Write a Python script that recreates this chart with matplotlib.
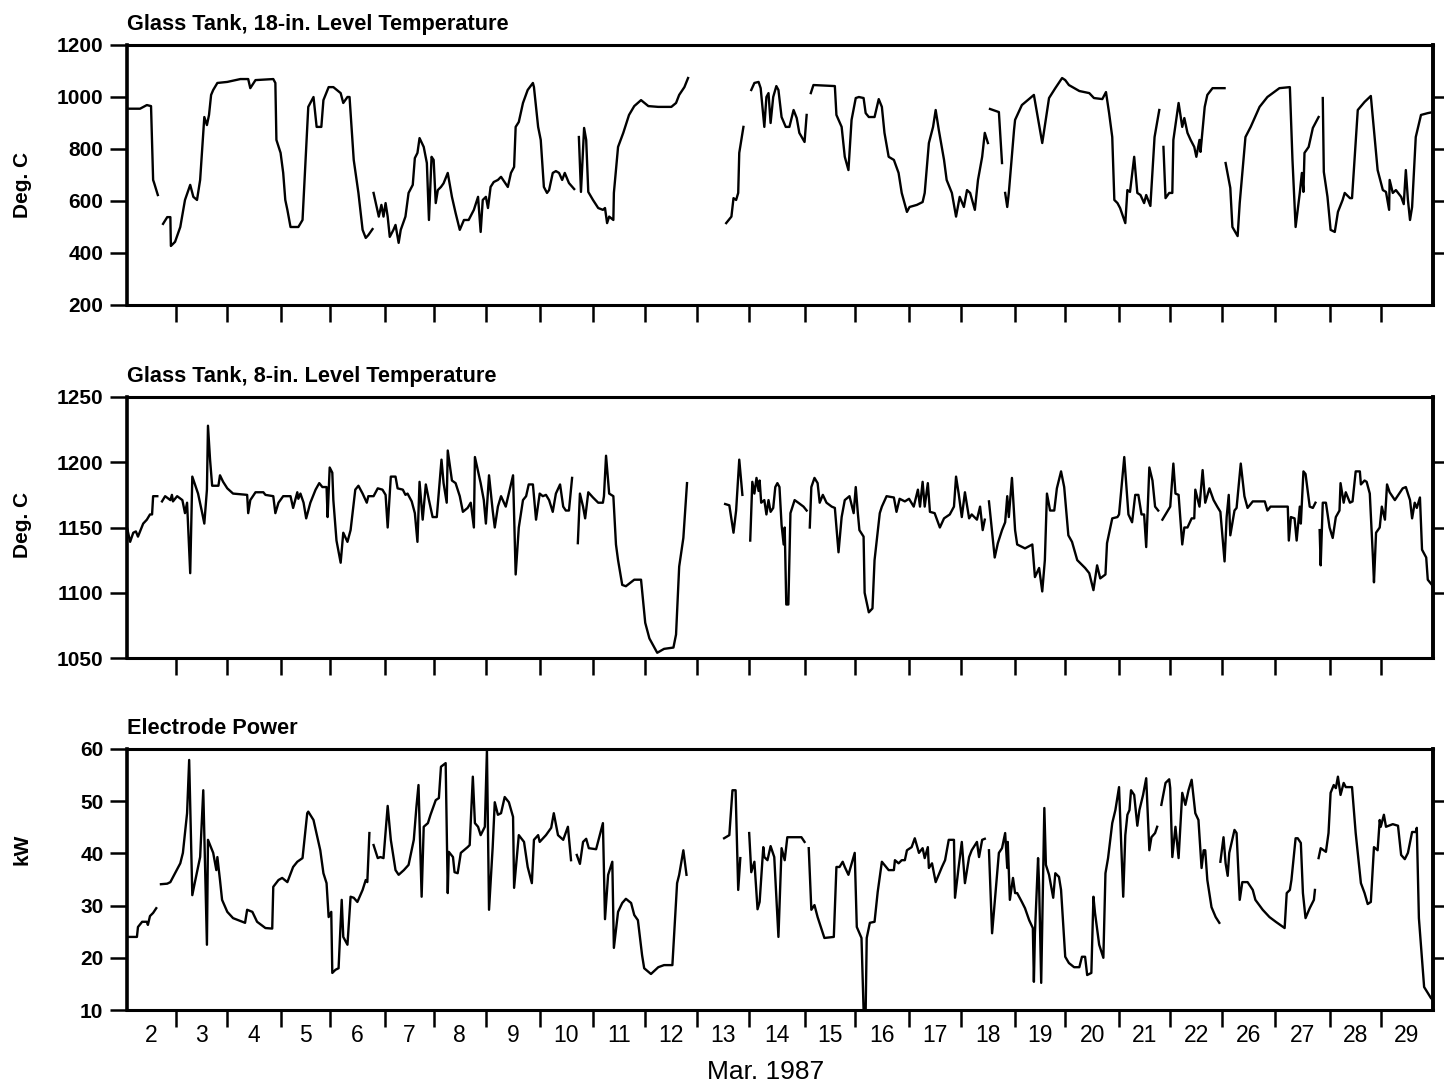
import matplotlib
matplotlib.use("Agg")
import matplotlib.pyplot as plt
import numpy as np

plt.rcParams['font.family'] = ['Liberation Sans', 'DejaVu Sans']

# x is elapsed record time in days from the start of Mar. 2 (days 23-25 not logged)
day_labels = ['2', '3', '4', '5', '6', '7', '8', '9', '10', '11', '12', '13', '14',
              '15', '16', '17', '18', '19', '20', '21', '22', '26', '27', '28', '29']
# midnight marks between logged days
day_bounds = [0.94, 1.92, 2.94, 3.89, 4.93, 5.87, 6.87, 7.90, 8.92, 9.92, 10.92, 11.91,
              12.97, 13.93, 14.97, 15.96, 17.00, 17.96, 18.99, 19.97, 20.97, 21.97, 23.02, 24.00]

# glass tank, 18-in. level temperature (deg C), one list per logged stretch
t18_days = [
    [0.00, 0.25, 0.38, 0.46, 0.50, 0.52, 0.59],
    [0.69, 0.77, 0.83, 0.84, 0.92, 1.02, 1.11, 1.21, 1.27, 1.34, 1.40, 1.48, 1.53, 1.57, 1.61, 1.65, 1.73,
     1.92, 2.17, 2.32, 2.36, 2.46, 2.80, 2.84, 2.86, 2.94, 2.99, 3.03, 3.07, 3.13, 3.28, 3.36, 3.47, 3.57,
     3.63, 3.72, 3.76, 3.86, 3.95, 4.09, 4.14, 4.22, 4.26, 4.34, 4.43, 4.51, 4.57, 4.62, 4.70],
    [4.72, 4.82, 4.87, 4.91, 4.95, 4.99, 5.03, 5.10, 5.14, 5.20, 5.24, 5.33, 5.39, 5.47, 5.51, 5.56, 5.60,
     5.68, 5.74, 5.78, 5.83, 5.87, 5.91, 5.95, 6.01, 6.06, 6.14, 6.22, 6.29, 6.37, 6.45, 6.54, 6.64, 6.72,
     6.77, 6.81, 6.87, 6.91, 6.96, 7.02, 7.10, 7.16, 7.29, 7.35, 7.41, 7.44, 7.50, 7.58, 7.67, 7.77, 7.79,
     7.87, 7.92, 7.98, 8.04, 8.08, 8.15, 8.21, 8.27, 8.33, 8.38, 8.46, 8.56],
    [8.65, 8.69, 8.75, 8.79, 8.83, 8.92, 9.02, 9.11, 9.15, 9.19, 9.23, 9.31, 9.32, 9.40, 9.50, 9.61, 9.71,
     9.84, 9.98, 10.17, 10.42, 10.51, 10.57, 10.67, 10.74],
    [11.47, 11.57, 11.61, 11.66, 11.70, 11.72, 11.80],
    [11.95, 12.01, 12.09, 12.13, 12.20, 12.24, 12.28, 12.32, 12.37, 12.43, 12.47, 12.53, 12.61, 12.68,
     12.76, 12.82, 12.87, 12.97, 13.01],
    [13.09, 13.14, 13.55, 13.58, 13.68, 13.74, 13.81, 13.87, 13.95, 14.01, 14.10, 14.14, 14.20, 14.31,
     14.39, 14.45, 14.50, 14.58, 14.68, 14.77, 14.83, 14.93, 14.98, 15.12, 15.23, 15.27, 15.35, 15.43,
     15.48, 15.54, 15.64, 15.69, 15.79, 15.87, 15.94, 16.02, 16.08, 16.14, 16.23, 16.29, 16.37, 16.42, 16.48],
    [16.52, 16.69, 16.75],
    [16.81, 16.85, 16.88, 16.98, 17.00, 17.13, 17.36, 17.52, 17.65, 17.77, 17.90, 17.96, 18.03, 18.23,
     18.42, 18.51, 18.67, 18.74, 18.80, 18.86, 18.90, 18.96, 19.01, 19.11, 19.15, 19.20, 19.28, 19.34,
     19.40, 19.47, 19.51, 19.59, 19.67, 19.76],
    [19.84, 19.88, 19.95, 20.01, 20.03, 20.13, 20.20, 20.24, 20.30, 20.36, 20.43, 20.47, 20.53, 20.55,
     20.63, 20.68, 20.78, 21.01],
    [21.03, 21.12, 21.16, 21.26, 21.30, 21.41, 21.51, 21.68, 21.83, 22.06, 22.26, 22.31, 22.37, 22.45,
     22.49, 22.52, 22.54, 22.62, 22.70, 22.81],
    [22.89, 22.91, 22.98, 23.04, 23.12, 23.18, 23.27, 23.31, 23.41, 23.45, 23.56, 23.69, 23.81, 23.94,
     24.04, 24.10, 24.16, 24.17, 24.23, 24.29, 24.39, 24.44, 24.48, 24.52, 24.56, 24.60, 24.67, 24.77,
     24.90, 25.00],
]
t18_degc = [
    [955, 955, 969, 965, 681, 669, 623],
    [512, 538, 538, 427, 443, 500, 604, 662, 616, 604, 681, 923, 892, 931, 1008, 1027, 1054, 1058, 1069,
     1069, 1034, 1065, 1069, 1054, 835, 785, 708, 604, 566, 500, 500, 527, 962, 1000, 885, 885, 988, 1038,
     1038, 1015, 977, 1000, 1000, 758, 631, 489, 458, 469, 492],
    [631, 540, 585, 540, 592, 540, 462, 489, 508, 439, 489, 540, 631, 662, 765, 785, 842, 808, 746, 527,
     770, 758, 592, 642, 654, 668, 708, 616, 554, 489, 527, 527, 566, 616, 481, 604, 616, 573, 654, 673,
     681, 693, 654, 708, 731, 885, 904, 977, 1027, 1054, 1038, 885, 835, 654, 631, 642, 708, 715, 708, 681,
     708, 669, 646],
    [846, 635, 881, 835, 635, 604, 573, 566, 573, 515, 540, 527, 631, 808, 862, 931, 965, 988, 965, 962,
     962, 977, 1008, 1038, 1073],
    [515, 540, 611, 604, 631, 785, 885],
    [1027, 1054, 1058, 1034, 885, 1000, 1015, 900, 1000, 1042, 1027, 923, 885, 885, 950, 919, 862, 827, 931],
    [1015, 1046, 1042, 931, 885, 770, 719, 912, 996, 1000, 996, 938, 923, 923, 992, 962, 862, 770, 758,
     708, 631, 558, 577, 585, 596, 631, 823, 885, 950, 873, 758, 681, 631, 540, 616, 577, 642, 631, 566,
     681, 770, 862, 823],
    [954, 942, 746],
    [631, 577, 631, 873, 912, 969, 1008, 823, 996, 1034, 1073, 1065, 1046, 1023, 1015, 996, 992, 1019,
     938, 846, 604, 592, 573, 515, 642, 635, 770, 631, 623, 592, 623, 581, 846, 950],
    [808, 611, 631, 631, 835, 977, 885, 919, 862, 835, 808, 770, 835, 789, 962, 1008, 1034, 1034],
    [746, 650, 500, 465, 592, 846, 885, 962, 1000, 1034, 1038, 758, 500, 631, 708, 635, 785, 808, 881, 923],
    [996, 712, 616, 489, 481, 558, 604, 631, 611, 611, 950, 981, 1004, 719, 642, 635, 566, 681, 631, 642,
     616, 588, 719, 604, 527, 577, 846, 931, 938, 942],
]

# glass tank, 8-in. level temperature (deg C)
t8_days = [
    [0.00, 0.06, 0.12, 0.17, 0.21, 0.31, 0.38, 0.44, 0.48, 0.50, 0.58],
    [0.67, 0.73, 0.83, 0.86, 0.88, 0.96, 1.06, 1.07, 1.11, 1.15, 1.21, 1.25, 1.30, 1.36, 1.44, 1.48, 1.53,
     1.55, 1.59, 1.63, 1.75, 1.78, 1.84, 1.92, 2.03, 2.30, 2.32, 2.36, 2.46, 2.61, 2.65, 2.80, 2.84, 2.90,
     2.99, 3.13, 3.18, 3.26, 3.28, 3.32, 3.38, 3.43, 3.51, 3.61, 3.68, 3.74, 3.82, 3.84, 3.88, 3.93, 3.95,
     4.01, 4.09, 4.14, 4.22, 4.28, 4.37, 4.43, 4.51, 4.59, 4.62, 4.72, 4.80, 4.89, 4.95, 4.99, 5.05, 5.14,
     5.18, 5.28, 5.33, 5.37, 5.45, 5.51, 5.56, 5.60, 5.66, 5.72, 5.78, 5.85, 5.93, 6.02, 6.06, 6.12, 6.14,
     6.22, 6.29, 6.37, 6.43, 6.52, 6.58, 6.64, 6.66, 6.77, 6.83, 6.87, 6.93, 7.00, 7.04, 7.10, 7.16, 7.25,
     7.39, 7.44, 7.50, 7.58, 7.64, 7.69, 7.77, 7.83, 7.90, 7.96, 8.02, 8.08, 8.15, 8.21, 8.29, 8.35, 8.40,
     8.46, 8.52],
    [8.63, 8.67, 8.73, 8.77, 8.83, 8.92, 9.02, 9.11, 9.13, 9.17, 9.23, 9.31, 9.36, 9.40, 9.48, 9.55, 9.71,
     9.84, 9.92, 10.00, 10.15, 10.28, 10.46, 10.51, 10.57, 10.65, 10.72],
    [11.45, 11.53, 11.61, 11.66, 11.72, 11.78],
    [11.93, 11.97, 12.01, 12.05, 12.09, 12.11, 12.14, 12.20, 12.24, 12.28, 12.32, 12.37, 12.41, 12.45,
     12.49, 12.53, 12.57, 12.59, 12.62, 12.66, 12.70, 12.78, 12.85, 12.95, 13.01],
    [13.07, 13.10, 13.16, 13.22, 13.26, 13.32, 13.39, 13.49, 13.55, 13.62, 13.68, 13.74, 13.83, 13.91,
     13.95, 13.99, 14.02, 14.10, 14.12, 14.20, 14.27, 14.31, 14.41, 14.45, 14.54, 14.68, 14.73, 14.79,
     14.89, 14.97, 15.06, 15.14, 15.18, 15.23, 15.27, 15.33, 15.37, 15.46, 15.56, 15.64, 15.75, 15.83,
     15.87, 15.92, 15.98, 16.04, 16.12, 16.17, 16.27, 16.33, 16.38, 16.42],
    [16.50, 16.61, 16.67, 16.75, 16.81, 16.85, 16.88, 16.94, 17.00, 17.04, 17.19, 17.33, 17.38, 17.46,
     17.52, 17.57, 17.61, 17.67, 17.75, 17.80, 17.88, 17.94, 18.02, 18.09, 18.19, 18.34, 18.42, 18.50,
     18.57, 18.63, 18.73, 18.76, 18.86, 18.96, 18.99, 19.09, 19.17, 19.24, 19.30, 19.36, 19.42, 19.47,
     19.51, 19.57, 19.63, 19.68, 19.74],
    [19.82, 19.88, 19.97, 20.03, 20.07, 20.13, 20.20, 20.24, 20.30, 20.38, 20.43, 20.45, 20.53, 20.59,
     20.64, 20.72, 20.80, 20.87, 20.93, 21.01, 21.05, 21.09, 21.12, 21.20, 21.24, 21.32, 21.39, 21.45,
     21.55, 21.78, 21.83, 21.89, 22.22, 22.24, 22.28, 22.35, 22.39, 22.45, 22.47, 22.52, 22.56, 22.64,
     22.70, 22.75],
    [22.83, 22.85, 22.89, 22.95, 23.02, 23.08, 23.14, 23.21, 23.23, 23.29, 23.33, 23.41, 23.46, 23.52,
     23.60, 23.62, 23.69, 23.73, 23.79, 23.85, 23.87, 23.91, 23.98, 24.02, 24.08, 24.12, 24.17, 24.27,
     24.37, 24.42, 24.48, 24.56, 24.60, 24.65, 24.69, 24.75, 24.79, 24.87, 24.90, 25.00],
]
t8_degc = [
    [1150, 1139, 1146, 1147, 1143, 1153, 1156, 1160, 1160, 1174, 1174],
    [1170, 1174, 1171, 1175, 1170, 1174, 1171, 1169, 1161, 1169, 1115, 1189, 1183, 1176, 1161, 1153, 1179,
     1228, 1202, 1182, 1182, 1190, 1185, 1180, 1176, 1175, 1161, 1171, 1177, 1177, 1175, 1174, 1161, 1169,
     1174, 1174, 1165, 1177, 1172, 1176, 1169, 1157, 1169, 1179, 1184, 1181, 1181, 1158, 1196, 1192, 1171,
     1140, 1123, 1146, 1139, 1148, 1179, 1182, 1176, 1169, 1174, 1174, 1180, 1179, 1175, 1150, 1189, 1189,
     1180, 1179, 1175, 1176, 1170, 1161, 1139, 1185, 1156, 1183, 1171, 1158, 1158, 1202, 1184, 1169, 1209,
     1186, 1184, 1174, 1162, 1165, 1169, 1150, 1204, 1184, 1171, 1153, 1190, 1163, 1150, 1166, 1174, 1166,
     1190, 1114, 1150, 1171, 1174, 1183, 1183, 1156, 1176, 1174, 1175, 1171, 1162, 1176, 1183, 1166, 1163,
     1163, 1188],
    [1138, 1176, 1166, 1157, 1177, 1173, 1169, 1169, 1174, 1205, 1176, 1174, 1137, 1125, 1106, 1105, 1110,
     1110, 1077, 1065, 1054, 1057, 1058, 1068, 1120, 1142, 1184],
    [1168, 1167, 1146, 1163, 1202, 1175],
    [1140, 1185, 1176, 1188, 1178, 1186, 1169, 1171, 1160, 1171, 1162, 1165, 1181, 1184, 1181, 1152, 1137,
     1150, 1091, 1091, 1161, 1171, 1169, 1166, 1163],
    [1150, 1181, 1188, 1184, 1169, 1175, 1169, 1166, 1165, 1131, 1158, 1171, 1174, 1161, 1181, 1161, 1148,
     1143, 1100, 1085, 1088, 1125, 1161, 1166, 1174, 1173, 1162, 1172, 1170, 1172, 1166, 1179, 1166, 1185,
     1166, 1184, 1162, 1161, 1150, 1157, 1160, 1166, 1189, 1176, 1158, 1177, 1157, 1160, 1156, 1166, 1148,
     1156],
    [1170, 1127, 1138, 1148, 1154, 1174, 1158, 1188, 1148, 1137, 1134, 1137, 1112, 1119, 1101, 1125, 1176,
     1163, 1163, 1180, 1193, 1181, 1144, 1139, 1125, 1119, 1115, 1102, 1121, 1111, 1114, 1138, 1157, 1158,
     1160, 1204, 1160, 1154, 1175, 1175, 1160, 1160, 1135, 1196, 1186, 1166, 1163],
    [1156, 1160, 1166, 1199, 1176, 1175, 1137, 1150, 1150, 1157, 1157, 1179, 1166, 1194, 1169, 1180, 1171,
     1166, 1162, 1124, 1158, 1175, 1144, 1163, 1165, 1199, 1174, 1165, 1170, 1170, 1163, 1166, 1166, 1140,
     1158, 1157, 1140, 1166, 1153, 1193, 1191, 1166, 1165, 1169],
    [1148, 1121, 1169, 1169, 1150, 1142, 1158, 1163, 1184, 1169, 1177, 1169, 1170, 1193, 1193, 1183, 1186,
     1185, 1176, 1127, 1108, 1146, 1150, 1166, 1156, 1183, 1177, 1171, 1177, 1180, 1181, 1171, 1157, 1169,
     1165, 1173, 1133, 1127, 1110, 1105],
]

# electrode power (kW)
power_days = [
    [0.00, 0.19, 0.21, 0.29, 0.38, 0.40, 0.44, 0.50, 0.56],
    [0.65, 0.77, 0.83, 0.92, 1.02, 1.07, 1.11, 1.15, 1.19, 1.25, 1.30, 1.40, 1.46, 1.53, 1.55, 1.65, 1.71,
     1.73, 1.78, 1.82, 1.92, 2.03, 2.26, 2.30, 2.40, 2.49, 2.65, 2.78, 2.80, 2.90, 2.97, 3.07, 3.18, 3.26,
     3.36, 3.45, 3.47, 3.57, 3.70, 3.76, 3.82, 3.86, 3.91, 3.93, 3.99, 4.05, 4.11, 4.14, 4.22, 4.28, 4.34,
     4.41, 4.51, 4.57, 4.60, 4.64],
    [4.72, 4.80, 4.85, 4.91, 4.99, 5.05, 5.14, 5.20, 5.30, 5.39, 5.49, 5.54, 5.58, 5.64, 5.68, 5.76, 5.81,
     5.91, 5.97, 6.01, 6.10, 6.14, 6.16, 6.24, 6.27, 6.33, 6.39, 6.52, 6.56, 6.62, 6.66, 6.72, 6.77, 6.85,
     6.89, 6.93, 7.00, 7.04, 7.10, 7.16, 7.23, 7.31, 7.39, 7.41, 7.50, 7.60, 7.67, 7.75, 7.79, 7.87, 7.90,
     8.02, 8.12, 8.17, 8.25, 8.35, 8.44, 8.50],
    [8.61, 8.67, 8.73, 8.79, 8.84, 8.98, 9.06, 9.11, 9.15, 9.21, 9.29, 9.32, 9.40, 9.48, 9.55, 9.65, 9.71,
     9.78, 9.86, 9.90, 10.03, 10.17, 10.28, 10.44, 10.53, 10.57, 10.65, 10.71],
    [11.43, 11.53, 11.59, 11.65, 11.70, 11.74],
    [11.91, 11.95, 12.01, 12.07, 12.11, 12.18, 12.20, 12.26, 12.32, 12.39, 12.47, 12.53, 12.59, 12.64,
     12.78, 12.91, 12.97],
    [13.05, 13.10, 13.16, 13.22, 13.30, 13.35, 13.53, 13.58, 13.64, 13.70, 13.74, 13.81, 13.93, 13.97,
     14.06, 14.10, 14.14, 14.16, 14.22, 14.31, 14.37, 14.45, 14.58, 14.68, 14.70, 14.77, 14.83, 14.89,
     14.93, 15.02, 15.08, 15.16, 15.23, 15.27, 15.33, 15.35, 15.41, 15.48, 15.60, 15.66, 15.73, 15.83,
     15.85, 15.92, 15.98, 16.04, 16.12, 16.17, 16.27, 16.31, 16.37, 16.42],
    [16.50, 16.56, 16.63, 16.69, 16.75, 16.81, 16.85, 16.86, 16.90, 16.96, 17.00, 17.04, 17.13, 17.19,
     17.27, 17.34, 17.36, 17.38, 17.44, 17.46, 17.50, 17.56, 17.59, 17.65, 17.73, 17.77, 17.84, 17.88,
     17.96, 18.03, 18.13, 18.23, 18.28, 18.34, 18.38, 18.46, 18.50, 18.53, 18.61, 18.69, 18.73, 18.78,
     18.86, 18.92, 18.99, 19.07, 19.11, 19.15, 19.19, 19.22, 19.28, 19.34, 19.38, 19.45, 19.51, 19.57,
     19.61, 19.68, 19.72],
    [19.80, 19.88, 19.95, 19.97, 20.01, 20.07, 20.13, 20.20, 20.26, 20.32, 20.38, 20.45, 20.51, 20.57,
     20.61, 20.64, 20.68, 20.76, 20.84, 20.91],
    [20.93, 20.99, 21.03, 21.07, 21.10, 21.20, 21.24, 21.30, 21.35, 21.45, 21.55, 21.60, 21.74, 21.87,
     21.99, 22.16, 22.20, 22.26, 22.29, 22.37, 22.41, 22.47, 22.51, 22.56, 22.64, 22.72, 22.74],
    [22.81, 22.85, 22.95, 23.00, 23.04, 23.10, 23.14, 23.18, 23.23, 23.29, 23.33, 23.45, 23.52, 23.62,
     23.69, 23.75, 23.81, 23.87, 23.94, 23.98, 24.00, 24.06, 24.10, 24.23, 24.33, 24.39, 24.46, 24.52,
     24.60, 24.67, 24.69, 24.73, 24.83, 24.96, 25.00],
]
power_kw = [
    [24.0, 24.0, 25.9, 26.9, 26.9, 26.3, 28.0, 28.6, 29.5],
    [34.1, 34.2, 34.5, 36.2, 38.1, 40.1, 43.9, 47.7, 57.9, 32.0, 34.5, 39.3, 52.1, 22.5, 42.6, 40.1, 36.8,
     39.3, 34.9, 31.1, 28.8, 27.6, 26.7, 29.2, 28.8, 26.9, 25.7, 25.6, 33.6, 34.9, 35.3, 34.5, 37.4, 38.4,
     39.1, 47.7, 48.0, 46.4, 40.6, 36.2, 34.3, 27.8, 28.8, 17.1, 17.7, 18.0, 31.1, 24.0, 22.5, 31.7, 31.5,
     30.7, 33.0, 34.9, 34.5, 43.9],
    [41.6, 39.1, 39.3, 39.1, 49.1, 42.6, 36.8, 35.9, 36.8, 37.8, 42.6, 48.9, 53.1, 31.7, 45.1, 45.8, 47.4,
     50.2, 50.6, 56.6, 57.3, 32.4, 40.3, 39.3, 36.4, 36.2, 40.1, 41.2, 41.6, 54.7, 45.8, 45.1, 43.5, 45.1,
     59.8, 29.2, 41.2, 49.8, 47.4, 47.7, 50.8, 49.8, 47.0, 33.4, 43.5, 42.2, 37.4, 34.3, 42.6, 43.5, 42.2,
     43.5, 44.9, 47.7, 43.5, 42.6, 45.1, 38.7],
    [39.7, 38.0, 42.2, 42.8, 41.0, 40.8, 43.9, 45.8, 27.4, 35.9, 38.4, 21.9, 28.8, 30.5, 31.3, 30.5, 28.2,
     27.2, 20.5, 18.0, 16.9, 18.2, 18.6, 18.6, 34.3, 35.9, 40.6, 35.9],
    [42.9, 43.5, 52.1, 52.1, 33.0, 39.1],
    [43.9, 36.4, 38.4, 29.3, 30.7, 41.2, 39.3, 38.7, 41.4, 39.3, 24.0, 41.0, 38.7, 43.1, 43.1, 43.1, 42.2],
    [41.0, 29.2, 30.1, 27.8, 25.3, 23.8, 24.0, 37.4, 37.4, 38.4, 37.4, 35.9, 40.1, 25.9, 23.8, 10.0, 10.0,
     23.8, 26.7, 26.9, 32.6, 38.4, 36.8, 36.8, 38.7, 38.1, 38.7, 38.7, 40.6, 41.2, 42.9, 40.1, 41.0, 39.1,
     41.2, 37.2, 38.1, 34.5, 37.4, 38.7, 42.6, 42.6, 31.5, 37.4, 42.2, 34.3, 39.3, 40.6, 42.2, 39.3, 42.6,
     42.8],
    [40.6, 24.7, 33.0, 40.1, 41.0, 43.9, 37.2, 42.2, 31.1, 35.3, 32.4, 32.4, 30.7, 29.5, 27.2, 25.7, 15.4,
     24.7, 39.1, 33.9, 15.2, 48.7, 37.8, 35.9, 31.5, 36.2, 35.5, 33.0, 20.2, 19.0, 18.2, 18.2, 20.2, 20.2,
     16.7, 17.1, 31.7, 28.6, 22.5, 20.0, 36.2, 39.1, 45.8, 48.3, 52.7, 31.7, 43.5, 47.4, 48.3, 52.1, 51.2,
     45.3, 48.3, 51.2, 54.4, 40.6, 43.1, 43.9, 45.1],
    [49.3, 53.5, 54.2, 52.5, 39.3, 45.1, 39.1, 51.6, 49.3, 52.1, 54.1, 47.7, 46.4, 37.2, 40.6, 40.6, 34.9,
     29.7, 27.8, 26.7],
    [38.4, 43.1, 38.1, 35.7, 40.1, 44.5, 43.9, 31.1, 34.5, 34.5, 33.0, 31.1, 29.2, 27.8, 26.9, 25.7, 32.4,
     33.0, 34.9, 42.9, 42.9, 42.0, 32.4, 27.6, 29.5, 31.1, 33.0],
    [39.1, 41.0, 40.3, 43.9, 51.6, 53.1, 52.5, 54.7, 51.2, 53.5, 52.7, 52.7, 43.9, 34.3, 32.4, 30.3, 30.7,
     41.2, 40.6, 46.4, 45.1, 47.4, 45.1, 45.6, 45.3, 39.7, 38.9, 40.1, 44.1, 44.1, 44.9, 27.6, 14.4, 12.3,
     11.9],
]


def join(segments):
    # one array with NaN breaks so the unlogged stretches stay empty
    out = []
    for seg in segments:
        out.extend(seg)
        out.append(np.nan)
    return np.array(out[:-1], dtype=float)


panels = [
    ('Glass Tank, 18-in. Level Temperature', t18_days, t18_degc, (200, 1200),
     [200, 400, 600, 800, 1000, 1200], [400, 600, 800, 1000]),
    ('Glass Tank, 8-in. Level Temperature', t8_days, t8_degc, (1050, 1250),
     [1050, 1100, 1150, 1200, 1250], [1100, 1150, 1200]),
    ('Electrode Power', power_days, power_kw, (10, 60),
     [10, 20, 30, 40, 50, 60], [20, 30, 40, 50]),
]

W, H = 1444, 1087
fig = plt.figure(figsize=(W / 100, H / 100), dpi=100)

# axes boxes in pixels: left, top, right, bottom
boxes = [(127, 45, 1433, 305), (127, 397, 1433, 658), (127, 749, 1433, 1010)]

edges = [0.0] + day_bounds + [25.0]
label_pos = [(a + b) / 2 for a, b in zip(edges[:-1], edges[1:])]

for i, (title, days, vals, ylim, yticks, rticks) in enumerate(panels):
    l, t, r, b = boxes[i]
    ax = fig.add_axes([l / W, 1 - b / H, (r - l) / W, (b - t) / H])
    ax.plot(join(days), join(vals), color='black', lw=1.7)
    ax.set_xlim(0, 25)
    ax.set_ylim(*ylim)

    for side in ['left', 'right']:
        ax.spines[side].set_linewidth(2.6)
    for side in ['top', 'bottom']:
        ax.spines[side].set_linewidth(2.2)

    ax.set_xticks(day_bounds)
    ax.set_xticklabels([])
    ax.tick_params(axis='x', which='major', direction='out', length=12, width=1.8)
    if i == 2:
        ax.set_xticks(label_pos, minor=True)
        ax.set_xticklabels(day_labels, minor=True, fontsize=16.5)
        ax.tick_params(axis='x', which='minor', length=0, pad=10)

    ax.set_yticks(yticks, [str(v) for v in yticks], fontsize=15, fontweight='bold')
    ax.tick_params(axis='y', direction='out', length=12, width=1.8, pad=5)

    sec = ax.secondary_yaxis('right')
    sec.set_yticks(rticks)
    sec.tick_params(direction='out', length=8, width=1.8, labelright=False)
    sec.spines['right'].set_linewidth(2.6)

    ax.set_title(title, loc='left', fontsize=15.7, fontweight='bold', pad=11)

fig.text(22 / W, 1 - 185 / H, 'Deg. C', rotation=90, ha='center', va='center',
         fontsize=15, fontweight='bold')
fig.text(22 / W, 1 - 525 / H, 'Deg. C', rotation=90, ha='center', va='center',
         fontsize=15, fontweight='bold')
fig.text(22 / W, 1 - 849 / H, 'kW', rotation=90, ha='center', va='center',
         fontsize=15, fontweight='bold')
fig.text(766 / W, 1 - 1072 / H, 'Mar. 1987', ha='center', va='center', fontsize=19)

fig.savefig('out.png', dpi=100)
